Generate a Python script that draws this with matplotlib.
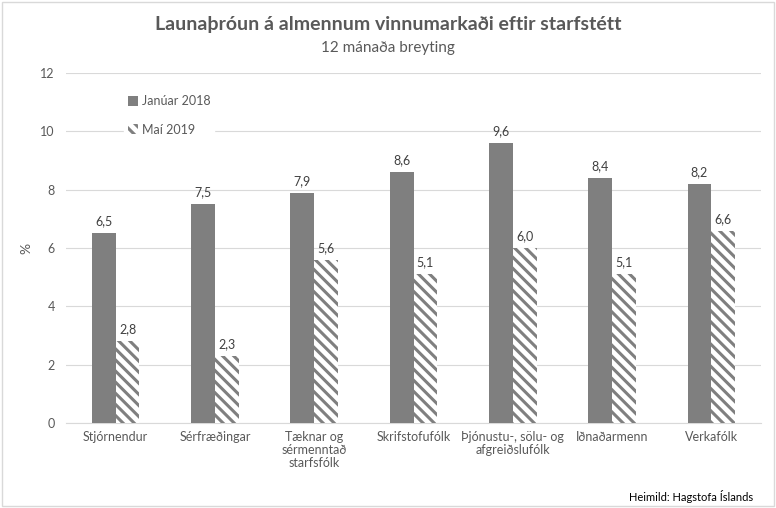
import numpy as np
import matplotlib.pyplot as plt
from matplotlib.patches import Rectangle

plt.rcParams['font.family'] = ['Lato', 'DejaVu Sans']
plt.rcParams['hatch.linewidth'] = 2.2

categories = ["Stjórnendur", "Sérfræðingar", "Tæknar og\nsérmenntað\nstarfsfólk",
              "Skrifstofufólk", "Þjónustu-, sölu- og\nafgreiðslufólk",
              "Iðnaðarmenn", "Verkafólk"]
jan_2018 = [6.5, 7.5, 7.9, 8.6, 9.6, 8.4, 8.2]
mai_2019 = [2.8, 2.3, 5.6, 5.1, 6.0, 5.1, 6.6]

text_color = "#595959"
bar_color = "#7f7f7f"

fig = plt.figure(figsize=(7.76, 5.08), dpi=100)
ax = fig.add_axes([66 / 776, 85 / 508, 695 / 776, 350 / 508])

x = np.arange(len(categories))
w = 0.24
b1 = ax.bar(x - w / 2, jan_2018, w, color=bar_color, label="Janúar 2018", zorder=3)
b2 = ax.bar(x + w / 2, mai_2019, w, color="white", edgecolor=bar_color, hatch="\\\\\\",
            linewidth=0, label="Maí 2019", zorder=3)

for bars, vals in ((b1, jan_2018), (b2, mai_2019)):
    for r, v in zip(bars, vals):
        ax.text(r.get_x() + r.get_width() / 2, v + 0.2, f"{v:.1f}".replace(".", ","),
                ha="center", va="bottom", fontsize=9, color="#404040")

ax.set_ylim(0, 12)
ax.set_yticks(range(0, 13, 2))
ax.set_xlim(-0.5, len(categories) - 0.5)
ax.set_xticks(x)
ax.set_xticklabels(categories, fontsize=9, color=text_color, linespacing=1.1)
ax.tick_params(axis="y", labelsize=9, labelcolor=text_color, length=0, pad=8)
ax.tick_params(axis="x", length=0, pad=6)
ax.grid(axis="y", color="#d9d9d9", linewidth=0.8, zorder=0)
for s in ["top", "right", "left"]:
    ax.spines[s].set_visible(False)
ax.spines["bottom"].set_color("#d9d9d9")
ax.set_ylabel("%", fontsize=10, color=text_color, labelpad=6)

leg = ax.legend(loc="upper left", bbox_to_anchor=(0.075, 0.965), frameon=True,
                fontsize=9, labelspacing=1.3, handlelength=0.8, handleheight=0.8,
                handletextpad=0.3, borderpad=0.3)
leg.get_frame().set_edgecolor("white")
leg.get_frame().set_facecolor("white")
leg.get_frame().set_alpha(1)
for t in leg.get_texts():
    t.set_color(text_color)

fig.text(0.5, 0.952, "Launaþróun á almennum vinnumarkaði eftir starfstétt",
         ha="center", va="center", fontsize=14, fontweight="bold", color=text_color)
fig.text(0.5, 0.905, "12 mánaða breyting", ha="center", va="center",
         fontsize=11, color=text_color)
fig.text(0.97, 0.022, "Heimild: Hagstofa Íslands", ha="right", va="center",
         fontsize=8, color="black")

fig.patches.append(Rectangle((0.003, 0.003), 0.994, 0.994, transform=fig.transFigure,
                             fill=False, edgecolor="#d9d9d9", linewidth=1))

fig.savefig("out.png", dpi=100)
